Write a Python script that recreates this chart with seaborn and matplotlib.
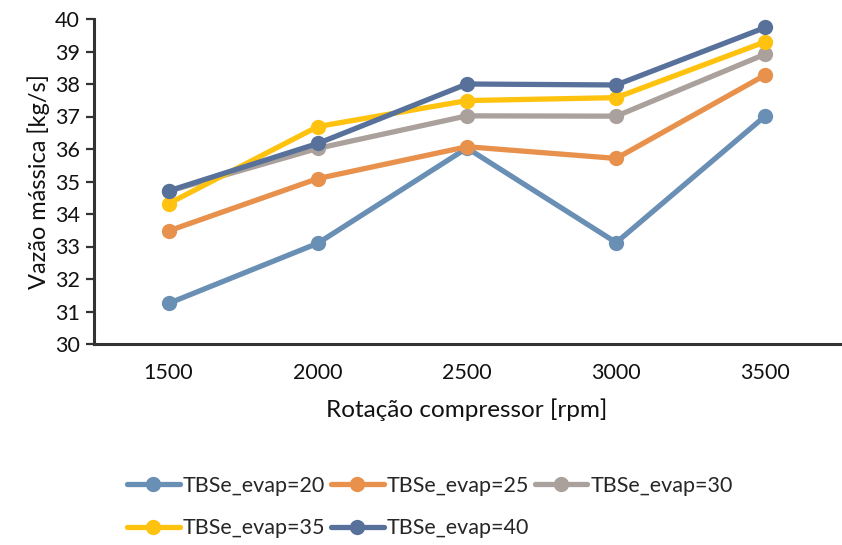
import matplotlib
matplotlib.use("Agg")
import matplotlib.pyplot as plt
import seaborn as sns
import pandas as pd

rotacao = ["1500", "2000", "2500", "3000", "3500"]
series_names = ["TBSe_evap=20", "TBSe_evap=25", "TBSe_evap=30", "TBSe_evap=35", "TBSe_evap=40"]
evap_20 = [31.25, 33.10, 36.03, 33.12, 37.02]
evap_25 = [33.48, 35.09, 36.07, 35.71, 38.28]
evap_30 = [34.70, 36.02, 37.02, 37.01, 38.92]
evap_35 = [34.32, 36.69, 37.49, 37.58, 39.30]
evap_40 = [34.71, 36.17, 38.00, 37.97, 39.74]
colors = ["#6a8fb5", "#e8914c", "#aba19c", "#ffc20e", "#58719b"]

rows = []
for name, vals in zip(series_names, [evap_20, evap_25, evap_30, evap_35, evap_40]):
    for x, v in zip(rotacao, vals):
        rows.append({"Rotação": x, "Vazão": v, "Série": name})
df = pd.DataFrame(rows)

sns.set_theme(style="white")
plt.rcParams["font.family"] = ["Lato", "DejaVu Sans"]

fig = plt.figure(figsize=(8.42, 5.45), dpi=100)
ax = fig.add_axes([94 / 842, 1 - 344 / 545, 746 / 842, 325 / 545])

sns.lineplot(data=df, x="Rotação", y="Vazão", hue="Série", hue_order=series_names,
             palette=colors, marker="o", markersize=11, markeredgewidth=0,
             linewidth=3.8, ax=ax, legend=True, sort=False)

ax.set_xlim(-0.5, 4.5)
ax.set_ylim(30, 40)
ax.set_yticks(range(30, 41))
ax.set_xlabel("Rotação compressor [rpm]", fontsize=17.5, color="#111111", labelpad=11)
ax.set_ylabel("Vazão mássica [kg/s]", fontsize=17, color="#111111", labelpad=4)
ax.tick_params(axis="y", which="major", length=6, width=1.6, color="#333333",
               direction="out", labelsize=15.5, labelcolor="#111111", pad=4, left=True)
ax.tick_params(axis="x", length=0, labelsize=15.5, labelcolor="#111111", pad=14)
for side in ["top", "right"]:
    ax.spines[side].set_visible(False)
for side in ["left", "bottom"]:
    ax.spines[side].set_color("#333333")
    ax.spines[side].set_linewidth(2.2)

handles, labels = ax.get_legend_handles_labels()
ax.get_legend().remove()
order = [0, 3, 1, 4, 2]
fig.legend([handles[i] for i in order], [labels[i] for i in order],
           ncol=3, loc="center", bbox_to_anchor=(430 / 842, 1 - 507 / 545),
           frameon=False, fontsize=15.5, handlelength=2.45, handletextpad=0.15,
           columnspacing=0.25, labelspacing=1.05, borderaxespad=0)

fig.savefig("out.png", dpi=100)
